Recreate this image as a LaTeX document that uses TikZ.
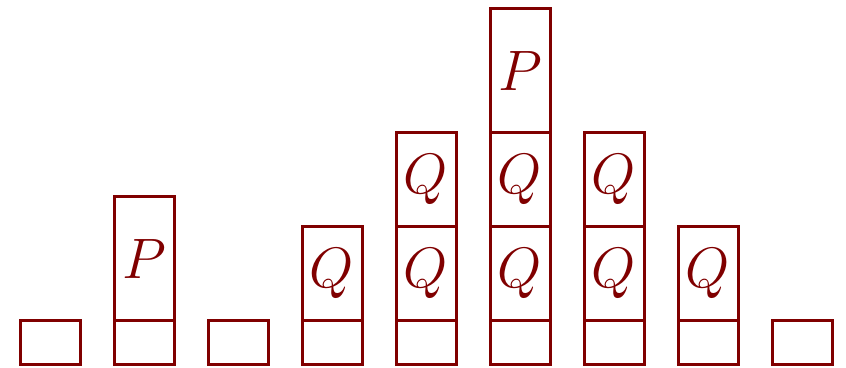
\documentclass[tikz,border=0pt]{standalone}
\usepackage{fix-cm}
\definecolor{dred}{RGB}{128,0,0}
\tikzset{
  cell/.style={draw=dred, line width=1.5pt, minimum width=30pt, inner sep=0pt, outer sep=0pt, anchor=south, text=dred, font=\fontsize{28.5}{32}\selectfont},
  basebox/.style={cell, minimum height=22pt},
  qbox/.style={cell, minimum height=47pt},
  pbox/.style={cell, minimum height=62pt}
}
\begin{document}
\begin{tikzpicture}[x=1pt,y=1pt]
\useasboundingbox (0,0) rectangle (423,184);
\foreach \i/\x in {1/25,2/72,3/119,4/166,5/213,6/260,7/307,8/354,9/401}{
  \node[basebox] (b\i) at (\x,1.5) {};
}
\node[pbox] (p2) at (b2.north) {$P$};
\node[qbox] (q4) at (b4.north) {$Q$};
\node[qbox] (q5a) at (b5.north) {$Q$};
\node[qbox] (q5b) at (q5a.north) {$Q$};
\node[qbox] (q6a) at (b6.north) {$Q$};
\node[qbox] (q6b) at (q6a.north) {$Q$};
\node[pbox] (p6) at (q6b.north) {$P$};
\node[qbox] (q7a) at (b7.north) {$Q$};
\node[qbox] (q7b) at (q7a.north) {$Q$};
\node[qbox] (q8) at (b8.north) {$Q$};
\end{tikzpicture}
\end{document}
